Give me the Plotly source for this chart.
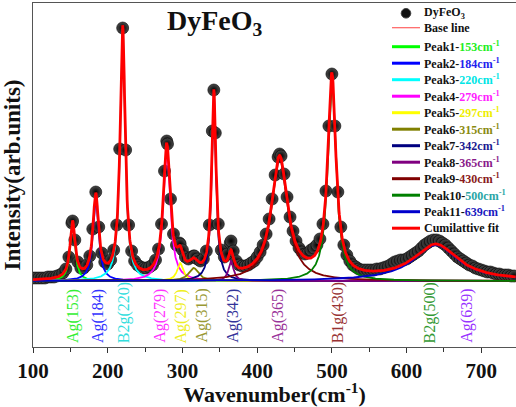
import numpy as np
import plotly.graph_objects as go

# ---------------- data ----------------
wn_data = [
    100, 104, 108, 112, 116, 120, 124, 128, 132, 136,
    140, 144, 148, 152, 153, 156, 160, 164, 168, 172,
    176, 180, 184, 188, 192, 196, 200, 204, 208, 212,
    216, 220, 224, 228, 232, 236, 240, 244, 248, 252,
    256, 260, 264, 268, 272, 276, 279, 280, 284, 288,
    292, 296, 297, 300, 304, 308, 312, 315, 316, 320,
    324, 328, 332, 336, 340, 342, 344, 348, 352, 356,
    360, 364, 365, 368, 372, 376, 380, 384, 388, 392,
    396, 400, 404, 408, 412, 416, 420, 424, 428, 430,
    432, 436, 440, 444, 448, 452, 456, 460, 464, 468,
    472, 476, 480, 484, 488, 492, 496, 500, 504, 508,
    512, 516, 520, 524, 528, 532, 536, 540, 544, 548,
    552, 556, 560, 564, 568, 572, 576, 580, 584, 588,
    592, 596, 600, 604, 608, 612, 616, 620, 624, 628,
    632, 636, 640, 644, 648, 652, 656, 660, 664, 668,
    672, 676, 680, 684, 688, 692, 696, 700, 704, 708,
    712, 716, 720, 724, 728, 732, 736, 740, 744,
]
int_data = [
    3, 3, 3, 3, 3, 4, 4, 4, 5, 6,
    8, 12, 24, 58, 60, 41, 19, 13, 13, 16,
    25, 52, 89, 54, 28, 19, 17, 21, 31, 56,
    132, 253, 131, 56, 30, 20, 16, 14, 13, 13,
    14, 16, 21, 32, 57, 110, 140, 137, 82, 47,
    36, 38, 37, 31, 24, 22, 24, 25, 25, 22,
    20, 22, 30, 56, 150, 191, 148, 57, 31, 24,
    27, 38, 40, 30, 20, 16, 15, 15, 16, 18,
    20, 24, 29, 36, 47, 62, 82, 106, 124, 127,
    125, 107, 84, 64, 50, 40, 33, 29, 27, 28,
    31, 33, 36, 42, 57, 90, 155, 207, 155, 89,
    54, 36, 26, 20, 16, 14, 12, 11, 11, 11,
    11, 11, 12, 12, 13, 14, 15, 17, 19, 20,
    21, 21, 22, 24, 26, 28, 30, 33, 36, 38,
    40, 41, 41, 40, 38, 36, 33, 30, 27, 24,
    22, 20, 18, 16, 15, 13, 12, 11, 10, 9,
    9, 8, 7, 7, 6, 6, 6, 5, 5,
]

# fitted Lorentzian components (centre, height, half width)
peak_names = ["Peak1", "Peak2", "Peak3", "Peak4", "Peak5", "Peak6",
              "Peak7", "Peak8", "Peak9", "Peak10", "Peak11"]
peak_centers = [153, 184, 220, 279, 297, 315, 342, 365, 430, 500, 639]
peak_heights = [57, 83, 252, 133, 18, 13, 185, 20, 122, 202, 36]
peak_hwhm = [4, 4.5, 4, 5.5, 5, 8, 3.5, 4, 13, 6.5, 36]
baseline_level = 0

# Raman mode labels
mode_labels = ["Ag(153)", "Ag(184)", "B2g(220)", "Ag(279)", "Ag(297)", "Ag(315)",
               "Ag(342)", "Ag(365)", "B1g(430)", "B2g(500)", "Ag(639)"]

x_ticks = [100, 200, 300, 400, 500, 600, 700]

# ---------------- styling ----------------
peak_colors = ["#00ff00", "#0000ff", "#00ffff", "#ff00ff", "#ffff00", "#808000",
               "#000080", "#800080", "#800000", "#008000", "#0000cc"]
peak_text_colors = ["#22ee22", "#2222ee", "#00e5e5", "#ff22ff", "#eeee00", "#8a8a10",
                    "#1a1a90", "#8a1a8a", "#8a1a1a", "#2aa5a5", "#1a1ac0"]
mode_colors = ["#33ee33", "#3333ff", "#33dddd", "#ff33ff", "#eeee22", "#999933",
               "#333399", "#993399", "#993333", "#339933", "#9933ff"]
mode_label_pos = [153.6, 187, 221.5, 269.7, 298.7, 325.5, 367.4, 427.7, 508, 631.2, 680.4]

SERIF = "Liberation Serif, Times New Roman, serif"
W, H = 516, 407
ML, MR, MT, MB = 33, 0, 3, 60
PW, PH = W - ML - MR, H - MT - MB


def pxx(p):
    return (p - ML) / PW


def pxy(p):
    return (H - MB - p) / PH


def lorentz(x, c, h, w):
    return h * w ** 2 / ((x - c) ** 2 + w ** 2)


x_fit = np.arange(100, 746.5, 0.5)
components = [lorentz(x_fit, c, h, w) + baseline_level
              for c, h, w in zip(peak_centers, peak_heights, peak_hwhm)]
cumulative = baseline_level + np.sum([comp - baseline_level for comp in components], axis=0)

fig = go.Figure()

fig.add_trace(go.Scatter(
    x=wn_data, y=int_data, mode="markers", showlegend=False,
    marker=dict(size=12, color="#4a4a4a",
                gradient=dict(type="radial", color="#000000"),
                line=dict(width=0.6, color="#000000")),
))
fig.add_trace(go.Scatter(x=x_fit, y=np.full_like(x_fit, baseline_level, dtype=float),
                         mode="lines", line=dict(color="#ff6060", width=1), showlegend=False))
for comp, col in zip(components, peak_colors):
    fig.add_trace(go.Scatter(x=x_fit, y=comp, mode="lines",
                             line=dict(color=col, width=1.8), showlegend=False))
fig.add_trace(go.Scatter(x=x_fit, y=cumulative, mode="lines",
                         line=dict(color="#ff0000", width=2.8), showlegend=False))

annotations = []
shapes = []

# mode labels (vertical)
for lab, col, pos in zip(mode_labels, mode_colors, mode_label_pos):
    annotations.append(dict(x=pos, y=-64, xref="x", yref="y", text=lab, textangle=-90,
                            showarrow=False, xanchor="center", yanchor="bottom",
                            font=dict(family=SERIF, size=16, color=col)))

# chart title
annotations.append(dict(x=pxx(215), y=pxy(23), xref="paper", yref="paper",
                        text="<b>DyFeO<sub>3</sub></b>", showarrow=False,
                        xanchor="center", yanchor="middle",
                        font=dict(family=SERIF, size=28, color="#111111")))

# manual legend
LX0, LX1, LTX = 392, 420, 422
row_y = [13.3, 27.7] + [46.7 + 16.5 * i for i in range(12)]
legend_font = dict(family=SERIF, size=12, color="#111111")

# DyFeO3 marker
shapes.append(dict(type="circle", xref="paper", yref="paper",
                   x0=pxx(406 - 4.8), x1=pxx(406 + 4.8),
                   y0=pxy(row_y[0] + 4.8), y1=pxy(row_y[0] - 4.8),
                   fillcolor="#111111", line=dict(color="#444444", width=1)))
annotations.append(dict(x=pxx(LTX), y=pxy(row_y[0]), xref="paper", yref="paper",
                        text="<b>DyFeO<sub>3</sub></b>", showarrow=False,
                        xanchor="left", yanchor="middle", font=legend_font))
# Base line
shapes.append(dict(type="line", xref="paper", yref="paper",
                   x0=pxx(LX0), x1=pxx(LX1), y0=pxy(row_y[1]), y1=pxy(row_y[1]),
                   line=dict(color="#ff6060", width=1.2)))
annotations.append(dict(x=pxx(LTX), y=pxy(row_y[1]), xref="paper", yref="paper",
                        text="<b>Base line</b>", showarrow=False,
                        xanchor="left", yanchor="middle", font=legend_font))
for i, (name, c, col, tcol) in enumerate(zip(peak_names, peak_centers, peak_colors, peak_text_colors)):
    yy = row_y[2 + i]
    shapes.append(dict(type="line", xref="paper", yref="paper",
                       x0=pxx(LX0), x1=pxx(LX1), y0=pxy(yy), y1=pxy(yy),
                       line=dict(color=col, width=3)))
    annotations.append(dict(x=pxx(LTX), y=pxy(yy), xref="paper", yref="paper",
                            text=f"<b>{name}-<span style='color:{tcol}'>{c}cm<sup>-1</sup></span></b>",
                            showarrow=False, xanchor="left", yanchor="middle", font=legend_font))
yy = row_y[-1]
shapes.append(dict(type="line", xref="paper", yref="paper",
                   x0=pxx(LX0), x1=pxx(LX1), y0=pxy(yy), y1=pxy(yy),
                   line=dict(color="#ff0000", width=3)))
annotations.append(dict(x=pxx(LTX), y=pxy(yy), xref="paper", yref="paper",
                        text="<b>Cumilattive fit</b>", showarrow=False,
                        xanchor="left", yanchor="middle", font=legend_font))

fig.update_layout(
    width=W, height=H,
    margin=dict(l=ML, r=MR, t=MT, b=MB, pad=0),
    paper_bgcolor="white", plot_bgcolor="white",
    showlegend=False,
    annotations=annotations, shapes=shapes,
    xaxis=dict(range=[100, 746.4], tickvals=x_ticks, ticks="outside", ticklen=5,
               tickwidth=1, tickcolor="#333333",
               minor=dict(ticks="outside", ticklen=4, tickwidth=1, dtick=50, tickcolor="#333333"),
               showline=True, linecolor="#555555", linewidth=1, mirror=True,
               showgrid=False, zeroline=False,
               tickfont=dict(family=SERIF, size=21, color="#111111", weight="bold"),
               title=dict(text="<b>Wavenumber(cm<sup>-1</sup>)</b>", standoff=4,
                          font=dict(family=SERIF, size=22, color="#111111"))),
    yaxis=dict(range=[-66, 278], showticklabels=False, ticks="",
               showline=True, linecolor="#555555", linewidth=1, mirror=False,
               showgrid=False, zeroline=False,
               title=dict(text="<b>Intensity(arb.units)</b>", standoff=4,
                          font=dict(family=SERIF, size=23, color="#111111"))),
)

fig.write_html("out.html", config={"displayModeBar": False},
               post_script="document.body.style.margin='0';document.body.style.padding='0';")
